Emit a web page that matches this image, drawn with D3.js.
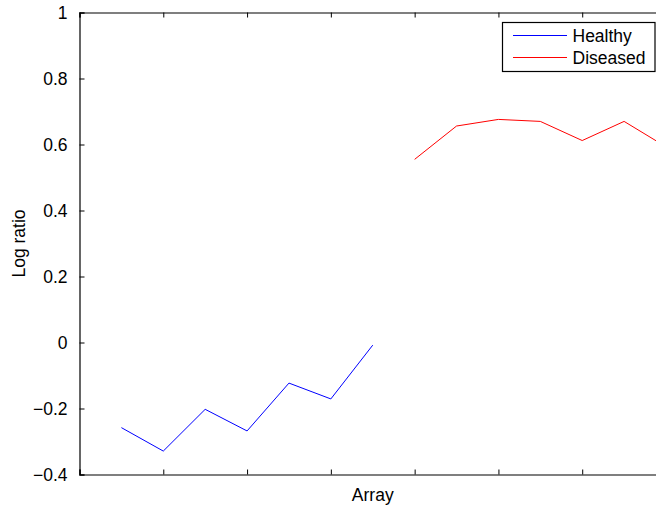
<!DOCTYPE html>
<html>
<head>
<meta charset="utf-8">
<script src="https://cdn.jsdelivr.net/npm/d3@7"></script>
<style>
  html, body { margin: 0; padding: 0; background: #fff; overflow: hidden; }
  svg { display: block; font-family: "Liberation Sans", Arial, Helvetica, sans-serif; }
</style>
</head>
<body>
<svg id="chart" width="656" height="506"></svg>
<script>
// Log ratio per array, healthy arrays 1-7 and diseased arrays 8-14
const healthyArrays = [1, 2, 3, 4, 5, 6, 7];
const healthyValues = [-0.258, -0.329, -0.2025, -0.268, -0.123, -0.171, -0.008];
const diseasedArrays = [8, 9, 10, 11, 12, 13, 14];
const diseasedValues = [0.555, 0.656, 0.676, 0.670, 0.612, 0.670, 0.593];
const yTicks = [-0.4, -0.2, 0, 0.2, 0.4, 0.6, 0.8, 1];
const xTicks = [0, 2, 4, 6, 8, 10, 12, 14];
const seriesNames = ["Healthy", "Diseased"];
const seriesColors = ["#0000ff", "#ff0000"];

const svg = d3.select("#chart");
const plotLeft = 79.5, plotRight = 666, plotTop = 12.5, plotBottom = 474.5;

const x = d3.scaleLinear().domain([0, 14]).range([plotLeft, plotRight]);
const y = d3.scaleLinear().domain([-0.4, 1]).range([plotBottom, plotTop]);

const fmt = v => {
  const s = d3.format("~g")(Math.round(v * 10) / 10);
  return s.replace("-", "\u2212");
};

// Axes box with inward ticks (labels only on the left)
const tickLen = 5;
const gLeft = svg.append("g").attr("transform", `translate(${plotLeft},0)`)
  .call(d3.axisLeft(y).tickValues(yTicks).tickSize(-tickLen).tickPadding(7 + tickLen).tickFormat(fmt));
const gRight = svg.append("g").attr("transform", `translate(${plotRight},0)`)
  .call(d3.axisRight(y).tickValues(yTicks).tickSize(-tickLen).tickFormat(""));
const gBottom = svg.append("g").attr("transform", `translate(0,${plotBottom})`)
  .call(d3.axisBottom(x).tickValues(xTicks).tickSize(-tickLen).tickFormat(""));
const gTop = svg.append("g").attr("transform", `translate(0,${plotTop})`)
  .call(d3.axisTop(x).tickValues(xTicks).tickSize(-tickLen).tickFormat(""));

[gLeft, gRight, gBottom, gTop].forEach(g => {
  g.select(".domain").attr("stroke", "#000").attr("stroke-width", 1.2);
  g.selectAll(".tick line").attr("stroke", "#000").attr("stroke-width", 1);
});
gLeft.selectAll(".tick text")
  .attr("font-size", "17.5px").attr("fill", "#000")
  .attr("font-family", "'Liberation Sans', Arial, sans-serif");

// Data lines
const line = d3.line().x(d => x(d[0])).y(d => y(d[1]));
const series = [
  d3.zip(healthyArrays, healthyValues),
  d3.zip(diseasedArrays, diseasedValues)
];
series.forEach((pts, i) => {
  svg.append("path").datum(pts)
    .attr("fill", "none")
    .attr("stroke", seriesColors[i])
    .attr("stroke-width", 1)
    .attr("d", line);
});

// Axis titles
svg.append("text")
  .attr("x", (plotLeft + plotRight) / 2).attr("y", 500.5)
  .attr("text-anchor", "middle").attr("font-size", "17.5px")
  .text("Array");
svg.append("text")
  .attr("transform", `translate(25,${(plotTop + plotBottom) / 2}) rotate(-90)`)
  .attr("text-anchor", "middle").attr("font-size", "17.5px")
  .text("Log ratio");

// Legend
const legend = svg.append("g");
legend.append("rect")
  .attr("x", 502.5).attr("y", 22.5).attr("width", 152.5).attr("height", 49)
  .attr("fill", "#fff").attr("stroke", "#000").attr("stroke-width", 1.2);
seriesNames.forEach((name, i) => {
  const ly = 35.5 + i * 22;
  legend.append("line")
    .attr("x1", 513).attr("x2", 567).attr("y1", ly).attr("y2", ly)
    .attr("stroke", seriesColors[i]).attr("stroke-width", 1);
  legend.append("text")
    .attr("x", 572.5).attr("y", ly + 6.3)
    .attr("font-size", "17.5px")
    .text(name);
});
</script>
</body>
</html>
